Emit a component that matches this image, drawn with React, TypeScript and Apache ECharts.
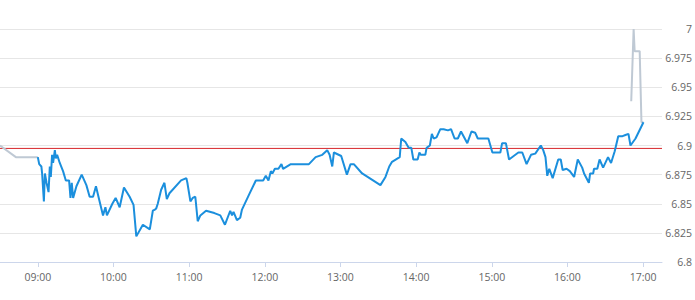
import React, { useEffect, useRef } from "react";
import * as echarts from "echarts";

// minutes since midnight
const preMinutes = [510, 522.6, 540];
const preValues = [6.9, 6.89, 6.89];

const mainMinutes = [
  540, 541.1, 542.8, 543.4, 544.8, 545.6, 546.9, 548.5, 549.5, 550.3,
  551.3, 552.1, 553.5, 554.3, 555.3, 557.4, 560, 562.2, 564.8, 565.9,
  566.9, 568, 570.6, 574.8, 578.5, 581.1, 583.8, 586.1, 589, 591.7,
  593.6, 594.8, 599.1, 601.7, 604.9, 608.3, 612.8, 615.9, 618.1, 623.3,
  628.8, 631.2, 632.9, 633.9, 635.1, 637.8, 640.4, 642.3, 644.4, 653.6,
  657.8, 658.6, 661, 662.8, 664.9, 666.8, 668.9, 673.4, 680, 684.7,
  688.4, 692.6, 694, 695.2, 697.9, 700.5, 701.9, 707.6, 712.9, 718.7,
  720.8, 722.9, 724.8, 726, 728, 730.8, 733.2, 734.5, 740.6, 755,
  760.3, 765.6, 769.5, 771.4, 773.5, 774.8, 780.6, 785.1, 788, 790.6,
  797.2, 811.7, 815.7, 818.7, 820.9, 827, 828.2, 831.5, 834.1, 836.2,
  837.8, 841.2, 842.6, 843.6, 847.3, 848.3, 850.9, 852.5, 853.9, 856.2,
  859.2, 861.8, 865.3, 867.7, 870.5, 873.1, 875.6, 880.6, 883.9, 886.8,
  888.9, 897.3, 900.5, 906.8, 908.2, 911.2, 913.7, 921.1, 924.2, 927.6,
  931.1, 934.5, 938.9, 940.8, 942.6, 944, 945.6, 948.3, 952.7, 954.7,
  956.2, 959.3, 961.9, 965.3, 968.2, 971.7, 973.2, 977, 978, 980.4,
  981.1, 983.7, 985.5, 988.3, 992.2, 994.6, 997.5, 1000.3, 1003.7, 1006,
  1008.4, 1010, 1014, 1020.3,
];
const mainValues = [
  6.89, 6.884, 6.882, 6.876, 6.852, 6.876, 6.868, 6.86, 6.882, 6.873,
  6.892, 6.885, 6.896, 6.889, 6.892, 6.885, 6.878, 6.87, 6.87, 6.855,
  6.868, 6.855, 6.865, 6.875, 6.866, 6.856, 6.856, 6.865, 6.852, 6.84,
  6.847, 6.84, 6.85, 6.855, 6.847, 6.864, 6.856, 6.849, 6.822, 6.832,
  6.828, 6.844, 6.845, 6.846, 6.85, 6.862, 6.868, 6.854, 6.859, 6.87,
  6.872, 6.868, 6.852, 6.855, 6.856, 6.835, 6.84, 6.844, 6.842, 6.84,
  6.832, 6.844, 6.84, 6.843, 6.836, 6.838, 6.845, 6.858, 6.87, 6.87,
  6.874, 6.87, 6.878, 6.876, 6.88, 6.88, 6.884, 6.88, 6.884, 6.884,
  6.89, 6.892, 6.896, 6.892, 6.882, 6.894, 6.891, 6.875, 6.884, 6.884,
  6.876, 6.866, 6.873, 6.882, 6.886, 6.89, 6.906, 6.903, 6.898, 6.898,
  6.888, 6.888, 6.894, 6.892, 6.892, 6.898, 6.9, 6.91, 6.906, 6.907,
  6.914, 6.914, 6.913, 6.914, 6.906, 6.906, 6.912, 6.902, 6.912, 6.911,
  6.906, 6.906, 6.894, 6.894, 6.902, 6.902, 6.888, 6.894, 6.894, 6.884,
  6.892, 6.893, 6.9, 6.896, 6.89, 6.874, 6.88, 6.872, 6.888, 6.888,
  6.879, 6.88, 6.878, 6.873, 6.888, 6.881, 6.876, 6.868, 6.876, 6.876,
  6.88, 6.88, 6.888, 6.881, 6.89, 6.885, 6.895, 6.908, 6.908, 6.909,
  6.91, 6.9, 6.906, 6.92,
];

const postMinutes = [1010.6, 1012.5, 1013.3, 1017.3, 1018.7, 1020.3];
const postValues = [6.938, 7.0, 6.981, 6.981, 6.92, 6.92];

const prevClose = 6.8975;
const axisStart = 510;
const axisEnd = 1035;
const hourTicks = [540, 600, 660, 720, 780, 840, 900, 960, 1020];

const pairs = (xs: number[], ys: number[]) => xs.map((x, i) => [x, ys[i]]);
const fmtTime = (m: number) => {
  const h = Math.floor(m / 60);
  const mm = Math.round(m % 60);
  return String(h).padStart(2, "0") + ":" + String(mm).padStart(2, "0");
};

export default function App() {
  const ref = useRef<HTMLDivElement>(null);
  useEffect(() => {
    const chart = echarts.init(ref.current!, null, { renderer: "svg" });
    chart.setOption({
      animation: false,
      backgroundColor: "#ffffff",
      grid: { left: 0, right: 31, top: 29, bottom: 38, containLabel: false },
      xAxis: {
        type: "value",
        min: axisStart,
        max: axisEnd,
        axisLine: { show: true, lineStyle: { color: "#ccd6eb", width: 1 } },
        axisTick: {
          show: true,
          length: 5,
          customValues: hourTicks,
          lineStyle: { color: "#ccd6eb" },
        },
        axisLabel: {
          customValues: hourTicks,
          formatter: (v: number) => fmtTime(v),
          color: "#666666",
          fontFamily: "Open Sans",
          fontSize: 10.5,
          margin: 9,
        },
        splitLine: { show: false },
      },
      yAxis: {
        type: "value",
        position: "right",
        min: 6.8,
        max: 7,
        interval: 0.025,
        axisLine: { show: false },
        axisTick: { show: false },
        axisLabel: {
          align: "right",
          margin: 30,
          color: "#666666",
          fontFamily: "Open Sans",
          fontSize: 10.5,
        },
        splitLine: { show: true, lineStyle: { color: "#e6e6e6", width: 1 } },
      },
      series: [
        {
          type: "line",
          data: [
            [axisStart, prevClose],
            [axisEnd, prevClose],
          ],
          showSymbol: false,
          silent: true,
          lineStyle: { color: "#d7262a", width: 1 },
          z: 1,
        },
        {
          type: "line",
          data: pairs(preMinutes, preValues),
          showSymbol: false,
          lineStyle: { color: "#bfc9d4", width: 2 },
          z: 2,
        },
        {
          type: "line",
          data: pairs(mainMinutes, mainValues),
          showSymbol: false,
          lineStyle: { color: "#1b8fdd", width: 2 },
          z: 3,
        },
        {
          type: "line",
          data: pairs(postMinutes, postValues),
          showSymbol: false,
          lineStyle: { color: "#bfc9d4", width: 2 },
          z: 2,
        },
      ],
    });
    return () => chart.dispose();
  }, []);
  return (
    <div
      ref={ref}
      style={{ position: "fixed", left: 0, top: 0, width: 695, height: 300 }}
    />
  );
}
